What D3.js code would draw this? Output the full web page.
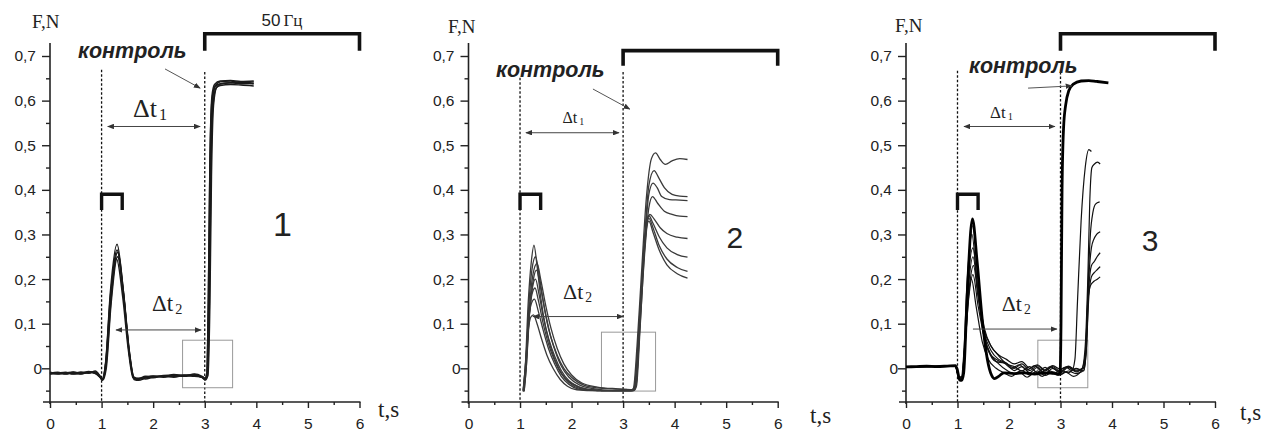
<!DOCTYPE html>
<html>
<head>
<meta charset="utf-8">
<script src="https://cdn.jsdelivr.net/npm/d3@7"></script>
<style>
  body { margin: 0; background: #fff; }
  text { fill: #222; }
</style>
</head>
<body>
<div id="chart"></div>
<script>
// axis ticks
var yTicks = [0, 0.1, 0.2, 0.3, 0.4, 0.5, 0.6, 0.7];
var yTickLabels = ["0", "0,1", "0,2", "0,3", "0,4", "0,5", "0,6", "0,7"];
var yMinor = [-0.05, 0.05, 0.15, 0.25, 0.35, 0.45, 0.55, 0.65];
var xTicks = [0, 1, 2, 3, 4, 5, 6];
var xMinor = [0.5, 1.5, 2.5, 3.5, 4.5, 5.5];

// panel 1 : force traces [t, F]
var panel1Traces = [
  [[0,-0.012],[0.15,-0.01],[0.3,-0.013],[0.45,-0.009],[0.6,-0.011],[0.75,-0.008],[0.88,-0.01],[0.97,-0.02],[1.01,-0.026],[1.08,0.01],[1.17,0.15],[1.3,0.265],[1.42,0.17],[1.53,0.04],[1.62,-0.022],[1.7,-0.025],[1.85,-0.02],[2.0,-0.019],[2.2,-0.017],[2.4,-0.018],[2.6,-0.015],[2.8,-0.016],[2.95,-0.02],[3.0,-0.024],[3.04,-0.015],[3.07,0.15],[3.1,0.45],[3.14,0.6],[3.2,0.632],[3.3,0.638],[3.5,0.64],[3.7,0.638],[3.95,0.639]],
  [[0,-0.01],[0.15,-0.013],[0.3,-0.01],[0.45,-0.012],[0.6,-0.008],[0.75,-0.011],[0.88,-0.006],[0.97,-0.018],[1.01,-0.024],[1.08,0.015],[1.17,0.17],[1.3,0.278],[1.42,0.175],[1.53,0.045],[1.63,-0.02],[1.72,-0.023],[1.85,-0.018],[2.0,-0.021],[2.2,-0.016],[2.4,-0.015],[2.6,-0.017],[2.8,-0.013],[2.95,-0.018],[3.01,-0.022],[3.05,-0.012],[3.08,0.15],[3.11,0.45],[3.15,0.6],[3.21,0.634],[3.3,0.642],[3.5,0.644],[3.7,0.64],[3.95,0.642]],
  [[0,-0.011],[0.15,-0.009],[0.3,-0.012],[0.45,-0.011],[0.6,-0.013],[0.75,-0.007],[0.88,-0.012],[0.97,-0.02],[1.02,-0.025],[1.09,0.01],[1.18,0.15],[1.31,0.26],[1.43,0.165],[1.54,0.035],[1.63,-0.025],[1.72,-0.027],[1.85,-0.022],[2.0,-0.018],[2.2,-0.02],[2.4,-0.016],[2.6,-0.018],[2.8,-0.015],[2.95,-0.021],[3.0,-0.025],[3.05,-0.018],[3.09,0.15],[3.12,0.44],[3.16,0.59],[3.22,0.628],[3.3,0.634],[3.5,0.636],[3.7,0.635],[3.95,0.633]],
  [[0,-0.013],[0.15,-0.011],[0.3,-0.009],[0.45,-0.013],[0.6,-0.01],[0.75,-0.009],[0.88,-0.011],[0.97,-0.019],[1.02,-0.027],[1.09,0.0],[1.18,0.14],[1.31,0.25],[1.43,0.16],[1.54,0.03],[1.64,-0.024],[1.74,-0.022],[1.85,-0.024],[2.0,-0.02],[2.2,-0.018],[2.4,-0.02],[2.6,-0.016],[2.8,-0.018],[2.95,-0.019],[3.01,-0.026],[3.06,-0.016],[3.1,0.15],[3.13,0.43],[3.17,0.59],[3.23,0.63],[3.3,0.637],[3.5,0.64],[3.7,0.642],[3.95,0.637]],
  [[0,-0.009],[0.15,-0.012],[0.3,-0.011],[0.45,-0.008],[0.6,-0.012],[0.75,-0.01],[0.88,-0.008],[0.97,-0.017],[1.01,-0.025],[1.08,0.012],[1.17,0.16],[1.29,0.245],[1.41,0.16],[1.52,0.04],[1.61,-0.021],[1.7,-0.024],[1.85,-0.019],[2.0,-0.017],[2.2,-0.019],[2.4,-0.014],[2.6,-0.016],[2.8,-0.014],[2.95,-0.02],[3.0,-0.023],[3.04,-0.014],[3.07,0.16],[3.1,0.46],[3.14,0.61],[3.19,0.636],[3.3,0.644],[3.5,0.645],[3.7,0.643],[3.95,0.644]]
];

// panel 2 : force traces [t, F]
var panel2Traces = [
  [[1.06,-0.052],[1.1,0.0],[1.16,0.15],[1.22,0.24],[1.27,0.276],[1.33,0.23],[1.4,0.16],[1.5,0.09],[1.6,0.045],[1.75,0.0],[1.9,-0.025],[2.1,-0.04],[2.4,-0.048],[2.8,-0.05],[3.15,-0.05],[3.2,-0.045],[3.27,0.05],[3.35,0.2],[3.45,0.38],[3.55,0.47],[3.63,0.483],[3.72,0.468],[3.82,0.457],[3.95,0.465],[4.1,0.47],[4.25,0.468]],
  [[1.07,-0.052],[1.11,0.0],[1.17,0.14],[1.23,0.22],[1.3,0.25],[1.37,0.21],[1.45,0.15],[1.55,0.09],[1.65,0.05],[1.8,0.005],[1.95,-0.02],[2.15,-0.037],[2.45,-0.046],[2.8,-0.05],[3.17,-0.05],[3.22,-0.04],[3.3,0.08],[3.4,0.26],[3.5,0.41],[3.6,0.443],[3.7,0.425],[3.8,0.405],[3.95,0.39],[4.1,0.386],[4.25,0.385]],
  [[1.08,-0.052],[1.12,0.0],[1.18,0.13],[1.25,0.21],[1.33,0.235],[1.4,0.2],[1.5,0.14],[1.6,0.09],[1.72,0.045],[1.85,0.01],[2.0,-0.015],[2.2,-0.033],[2.5,-0.042],[2.9,-0.046],[3.18,-0.048],[3.23,-0.04],[3.31,0.08],[3.4,0.25],[3.5,0.39],[3.58,0.415],[3.66,0.405],[3.75,0.385],[3.9,0.378],[4.1,0.377],[4.25,0.376]],
  [[1.08,-0.05],[1.12,0.0],[1.19,0.13],[1.26,0.2],[1.32,0.22],[1.4,0.18],[1.5,0.12],[1.6,0.07],[1.72,0.03],[1.85,0.0],[2.0,-0.02],[2.25,-0.038],[2.6,-0.045],[3.0,-0.047],[3.2,-0.048],[3.25,-0.038],[3.32,0.08],[3.42,0.26],[3.5,0.36],[3.57,0.385],[3.67,0.37],[3.8,0.352],[3.95,0.345],[4.1,0.341],[4.25,0.34]],
  [[1.07,-0.05],[1.11,0.0],[1.18,0.12],[1.24,0.18],[1.3,0.2],[1.37,0.165],[1.46,0.11],[1.56,0.065],[1.68,0.025],[1.8,-0.005],[1.95,-0.028],[2.15,-0.042],[2.5,-0.05],[3.0,-0.05],[3.18,-0.05],[3.23,-0.04],[3.3,0.07],[3.4,0.25],[3.47,0.33],[3.52,0.345],[3.6,0.335],[3.72,0.315],[3.85,0.302],[4.05,0.294],[4.25,0.291]],
  [[1.07,-0.05],[1.11,0.0],[1.17,0.11],[1.23,0.165],[1.29,0.18],[1.36,0.15],[1.45,0.1],[1.55,0.055],[1.68,0.015],[1.8,-0.012],[1.95,-0.032],[2.15,-0.045],[2.5,-0.05],[3.0,-0.05],[3.19,-0.05],[3.24,-0.04],[3.31,0.08],[3.4,0.26],[3.46,0.33],[3.5,0.342],[3.58,0.325],[3.7,0.295],[3.85,0.27],[4.05,0.255],[4.25,0.249]],
  [[1.06,-0.05],[1.1,0.0],[1.16,0.1],[1.22,0.145],[1.28,0.155],[1.35,0.13],[1.45,0.085],[1.55,0.045],[1.67,0.01],[1.8,-0.018],[1.95,-0.036],[2.15,-0.047],[2.5,-0.05],[3.0,-0.05],[3.2,-0.05],[3.25,-0.04],[3.32,0.09],[3.41,0.27],[3.46,0.325],[3.5,0.336],[3.58,0.315],[3.7,0.275],[3.85,0.245],[4.05,0.226],[4.25,0.217]],
  [[1.06,-0.05],[1.1,0.0],[1.16,0.085],[1.21,0.115],[1.26,0.12],[1.33,0.1],[1.42,0.065],[1.52,0.03],[1.64,0.0],[1.78,-0.025],[1.92,-0.04],[2.1,-0.048],[2.5,-0.05],[3.0,-0.05],[3.21,-0.05],[3.26,-0.04],[3.33,0.09],[3.42,0.27],[3.46,0.318],[3.5,0.33],[3.58,0.305],[3.7,0.265],[3.85,0.232],[4.05,0.212],[4.25,0.202]]
];

// panel 3 : control trace (thick) and test traces [t, F]
var panel3Control = [[0,0.003],[0.2,0.004],[0.4,0.005],[0.6,0.004],[0.8,0.005],[0.96,0.006],[1.0,-0.005],[1.04,-0.026],[1.08,-0.027],[1.12,-0.01],[1.19,0.17],[1.29,0.335],[1.38,0.24],[1.48,0.11],[1.58,0.02],[1.66,-0.015],[1.72,-0.023],[1.8,-0.018],[1.9,-0.01],[2.1,-0.012],[2.3,-0.01],[2.5,-0.013],[2.7,-0.01],[2.9,-0.012],[2.99,-0.012],[3.01,0.1],[3.03,0.4],[3.06,0.54],[3.1,0.59],[3.16,0.622],[3.25,0.637],[3.4,0.644],[3.55,0.645],[3.7,0.643],[3.93,0.64]];
var panel3Traces = [
  [[0,0.003],[0.96,0.005],[1.02,-0.02],[1.08,-0.024],[1.13,0.02],[1.2,0.2],[1.3,0.32],[1.4,0.2],[1.5,0.09],[1.6,0.04],[1.75,0.015],[1.9,0.012],[2.05,0.0],[2.2,0.008],[2.35,-0.004],[2.5,0.006],[2.65,-0.008],[2.8,0.004],[2.95,-0.006],[3.1,0.003],[3.22,-0.005],[3.28,0.02],[3.33,0.15],[3.4,0.33],[3.48,0.45],[3.55,0.49],[3.6,0.486]],
  [[0,0.003],[0.96,0.005],[1.02,-0.018],[1.07,-0.022],[1.12,0.03],[1.19,0.2],[1.28,0.3],[1.38,0.19],[1.5,0.08],[1.62,0.035],[1.78,0.018],[1.95,0.01],[2.1,-0.005],[2.25,0.004],[2.4,-0.01],[2.55,0.002],[2.7,-0.012],[2.85,0.0],[3.0,-0.01],[3.15,0.002],[3.3,-0.008],[3.42,0.0],[3.48,0.05],[3.53,0.2],[3.57,0.38],[3.61,0.45],[3.66,0.458],[3.72,0.462],[3.77,0.458]],
  [[0,0.003],[0.96,0.005],[1.03,-0.02],[1.08,-0.02],[1.14,0.05],[1.21,0.2],[1.3,0.27],[1.4,0.17],[1.52,0.08],[1.65,0.04],[1.8,0.02],[1.95,0.012],[2.1,0.0],[2.25,0.01],[2.4,-0.005],[2.55,0.006],[2.7,-0.006],[2.85,0.004],[3.0,-0.008],[3.15,0.005],[3.3,-0.004],[3.45,0.0],[3.5,0.06],[3.54,0.2],[3.58,0.3],[3.63,0.35],[3.68,0.368],[3.76,0.373]],
  [[0,0.003],[0.96,0.005],[1.03,-0.022],[1.09,-0.02],[1.15,0.06],[1.22,0.19],[1.3,0.25],[1.4,0.17],[1.52,0.09],[1.65,0.05],[1.8,0.03],[1.95,0.02],[2.1,0.01],[2.25,0.015],[2.4,0.0],[2.55,0.008],[2.7,-0.004],[2.85,0.006],[3.0,-0.002],[3.15,0.004],[3.3,-0.006],[3.45,0.002],[3.5,0.05],[3.54,0.18],[3.6,0.27],[3.65,0.29],[3.7,0.3],[3.77,0.306]],
  [[0,0.003],[0.96,0.005],[1.03,-0.02],[1.1,-0.018],[1.16,0.07],[1.23,0.18],[1.31,0.23],[1.4,0.16],[1.52,0.085],[1.65,0.05],[1.8,0.028],[1.95,0.01],[2.1,0.004],[2.25,-0.006],[2.4,0.004],[2.55,-0.01],[2.7,0.002],[2.85,-0.012],[3.0,-0.004],[3.15,-0.01],[3.3,0.0],[3.45,-0.006],[3.5,0.04],[3.55,0.18],[3.6,0.23],[3.66,0.24],[3.71,0.25],[3.77,0.259]],
  [[0,0.003],[0.96,0.005],[1.03,-0.02],[1.09,-0.02],[1.15,0.06],[1.22,0.16],[1.3,0.21],[1.4,0.14],[1.52,0.07],[1.65,0.03],[1.8,0.01],[1.95,-0.004],[2.1,-0.012],[2.25,-0.005],[2.4,-0.015],[2.55,-0.006],[2.7,-0.016],[2.85,-0.008],[3.0,-0.014],[3.15,-0.006],[3.3,-0.012],[3.45,-0.004],[3.5,0.04],[3.55,0.16],[3.6,0.205],[3.66,0.215],[3.72,0.222],[3.77,0.228]],
  [[0,0.003],[0.96,0.005],[1.03,-0.022],[1.08,-0.022],[1.14,0.05],[1.2,0.15],[1.27,0.2],[1.36,0.14],[1.48,0.06],[1.6,0.02],[1.75,0.0],[1.9,-0.01],[2.05,-0.018],[2.2,-0.008],[2.35,-0.02],[2.5,-0.01],[2.65,-0.018],[2.8,-0.006],[2.95,-0.016],[3.1,-0.008],[3.25,-0.018],[3.4,-0.006],[3.48,0.03],[3.53,0.15],[3.58,0.185],[3.65,0.195],[3.72,0.2],[3.77,0.205]]
];

// stimulus marks, in data units
var singleStim = [1, 1.4];
var trainStim = [3, 6];
var markerTimes = [1, 3];

var panels = [
  { num: "1", x0: 50, x6: 359.5, traces: panel1Traces, control: null,
    train: [0.75, 0.712], dotTop: [0.669, 0.664], freq: true,
    arrow1: [1.12, 2.91, 0.542], arrow2: [1.28, 2.93, 0.086, true],
    kArrow: [2.23, 0.671, 2.91, 0.628], box: [2.57, 3.54, -0.0435, 0.063],
    fn: [-18, 28], kt: [28, 58], dt1: [83, 117, 26], dt2: [102, 311, 23],
    numPos: [223, 236, 34], ts: [328, 417], stroke: "#1a1a1a", sw: 1.5 },
  { num: "2", x0: 468.5, x6: 777.7, traces: panel2Traces, control: null,
    train: [0.712, 0.678], dotTop: [0.651, 0.664], freq: false,
    arrow1: [1.115, 2.92, 0.528], arrow2: [1.25, 3.0, 0.116, true],
    kArrow: [2.415, 0.626, 3.13, 0.581], box: [2.58, 3.63, -0.051, 0.081],
    fn: [-20.5, 33], kt: [27.5, 77], dt1: [94, 123, 16], dt2: [94.5, 299, 22],
    numPos: [258, 248, 30], ts: [341.5, 423], stroke: "#3a3a3a", sw: 1.3 },
  { num: "3", x0: 906, x6: 1215, traces: panel3Traces, control: panel3Control,
    train: [0.75, 0.712], dotTop: [0.667, 0.664], freq: false,
    arrow1: [1.126, 2.89, 0.542], arrow2: [1.3, 2.93, 0.088, false],
    kArrow: [2.37, 0.628, 3.22, 0.633], box: [2.56, 3.53, -0.0435, 0.063],
    fn: [-11, 32], kt: [63, 73], dt1: [84, 118, 17], dt2: [95.7, 311, 22],
    numPos: [235.7, 251, 30], ts: [334, 420], stroke: "#111", sw: 1.2 }
];

var W = 1272, H = 432;
var sans = "'Liberation Sans', Arial, sans-serif";
var serif = "'Liberation Serif', 'Times New Roman', serif";

var svg = d3.select("#chart").append("svg")
  .attr("width", W).attr("height", H);

var defs = svg.append("defs");
defs.append("marker").attr("id", "head")
  .attr("viewBox", "0 0 10 8").attr("refX", 9).attr("refY", 4)
  .attr("markerWidth", 7).attr("markerHeight", 5.5)
  .attr("markerUnits", "userSpaceOnUse")
  .attr("orient", "auto-start-reverse")
  .append("path").attr("d", "M0,0 L10,4 L0,8 Z").attr("fill", "#333");

var y = d3.scaleLinear().domain([-0.0755, 0.7]).range([402, 56]);

panels.forEach(function(p) {
  var x = d3.scaleLinear().domain([0, 6]).range([p.x0, p.x6]);
  var g = svg.append("g");

  // axes
  g.append("line").attr("x1", p.x0).attr("x2", p.x0)
    .attr("y1", 43).attr("y2", 404).attr("stroke", "#222").attr("stroke-width", 1.6);
  g.append("line").attr("x1", p.x0 - 7).attr("x2", p.x6 + 1)
    .attr("y1", 402).attr("y2", 402).attr("stroke", "#222").attr("stroke-width", 1.6);

  var yAx = g.append("g").attr("transform", "translate(" + p.x0 + ",0)")
    .call(d3.axisLeft(y).tickValues(yTicks).tickSize(8).tickPadding(6)
      .tickFormat(function(d, i) { return yTickLabels[i]; }));
  g.append("g").attr("transform", "translate(" + p.x0 + ",0)")
    .call(d3.axisLeft(y).tickValues(yMinor).tickSize(4).tickFormat(""));
  var xAx = g.append("g").attr("transform", "translate(0,402)")
    .call(d3.axisBottom(x).tickValues(xTicks).tickSize(6).tickPadding(10)
      .tickFormat(d3.format("d")));
  g.append("g").attr("transform", "translate(0,402)")
    .call(d3.axisBottom(x).tickValues(xMinor).tickSize(3).tickFormat(""));

  g.selectAll(".domain").remove();
  g.selectAll(".tick line").attr("stroke", "#222").attr("stroke-width", 1.4);
  g.selectAll(".tick text").attr("font-family", sans).attr("font-size", 15.5).attr("fill", "#222");
  yAx.selectAll(".tick text").filter(function(d) { return d === 0; }).attr("x", -8);

  // stimulus brackets
  var bracket = function(t0, t1, top, bot) {
    return "M" + x(t0) + "," + y(bot) + "V" + y(top) + "H" + x(t1) + "V" + y(bot);
  };
  g.append("path").attr("d", bracket(trainStim[0], trainStim[1], p.train[0], p.train[1]))
    .attr("fill", "none").attr("stroke", "#111").attr("stroke-width", 3.6);
  g.append("path").attr("d", bracket(singleStim[0], singleStim[1], 0.39, 0.355))
    .attr("fill", "none").attr("stroke", "#111").attr("stroke-width", 3.4);

  // dotted markers
  markerTimes.forEach(function(t, i) {
    g.append("line").attr("x1", x(t)).attr("x2", x(t))
      .attr("y1", y(p.dotTop[i])).attr("y2", y(-0.0755))
      .attr("stroke", "#111").attr("stroke-width", 1.3).attr("stroke-dasharray", "2.5,2");
  });

  // zoom box
  g.append("rect").attr("x", x(p.box[0])).attr("y", y(p.box[3]))
    .attr("width", x(p.box[1]) - x(p.box[0])).attr("height", y(p.box[2]) - y(p.box[3]))
    .attr("fill", "none").attr("stroke", "#999").attr("stroke-width", 1);

  // traces
  var line = d3.line().x(function(d) { return x(d[0]); }).y(function(d) { return y(d[1]); })
    .curve(d3.curveMonotoneX);
  g.selectAll("path.trace").data(p.traces).enter().append("path")
    .attr("class", "trace").attr("d", line)
    .attr("fill", "none").attr("stroke", p.stroke).attr("stroke-width", p.sw)
    .attr("stroke-linejoin", "round");
  if (p.control) {
    g.append("path").datum(p.control).attr("d", line)
      .attr("fill", "none").attr("stroke", "#000").attr("stroke-width", 2.8)
      .attr("stroke-linejoin", "round");
  }

  // interval arrows
  g.append("line").attr("x1", x(p.arrow1[0])).attr("x2", x(p.arrow1[1]))
    .attr("y1", y(p.arrow1[2])).attr("y2", y(p.arrow1[2]))
    .attr("stroke", "#444").attr("stroke-width", 1)
    .attr("marker-start", "url(#head)").attr("marker-end", "url(#head)");
  var a2 = g.append("line").attr("x1", x(p.arrow2[0])).attr("x2", x(p.arrow2[1]))
    .attr("y1", y(p.arrow2[2])).attr("y2", y(p.arrow2[2]))
    .attr("stroke", "#444").attr("stroke-width", 1)
    .attr("marker-end", "url(#head)");
  if (p.arrow2[3]) a2.attr("marker-start", "url(#head)");
  g.append("line").attr("x1", x(p.kArrow[0])).attr("y1", y(p.kArrow[1]))
    .attr("x2", x(p.kArrow[2])).attr("y2", y(p.kArrow[3]))
    .attr("stroke", "#555").attr("stroke-width", 1)
    .attr("marker-end", "url(#head)");

  // labels
  g.append("text").attr("x", p.x0 + p.fn[0]).attr("y", p.fn[1])
    .attr("font-family", serif).attr("font-size", 19).text("F,N");
  g.append("text").attr("x", p.x0 + p.ts[0]).attr("y", p.ts[1])
    .attr("font-family", serif).attr("font-size", 23).text("t,s");
  g.append("text").attr("x", p.x0 + p.kt[0]).attr("y", p.kt[1])
    .attr("font-family", sans).attr("font-size", 21.5).attr("font-weight", "bold")
    .attr("font-style", "italic").attr("fill", "#111").text("контроль");
  g.append("text").attr("x", p.x0 + p.numPos[0]).attr("y", p.numPos[1])
    .attr("font-family", sans).attr("font-size", p.numPos[2]).text(p.num);

  var dtLabel = function(pos, sub) {
    var t = g.append("text").attr("x", p.x0 + pos[0]).attr("y", pos[1])
      .attr("font-family", serif).attr("font-size", pos[2]).attr("fill", "#333");
    t.append("tspan").text("Δt");
    t.append("tspan").attr("font-size", pos[2] * 0.62).attr("dx", 2).attr("dy", pos[2] * 0.12).text(sub);
  };
  dtLabel(p.dt1, "1");
  dtLabel(p.dt2, "2");

  if (p.freq) {
    var f = g.append("text").attr("x", x(4.1)).attr("y", 26).attr("font-size", 17);
    f.append("tspan").attr("font-family", sans).text("50");
    f.append("tspan").attr("font-family", serif).attr("dx", 3).text("Гц");
  }
});
</script>
</body>
</html>
